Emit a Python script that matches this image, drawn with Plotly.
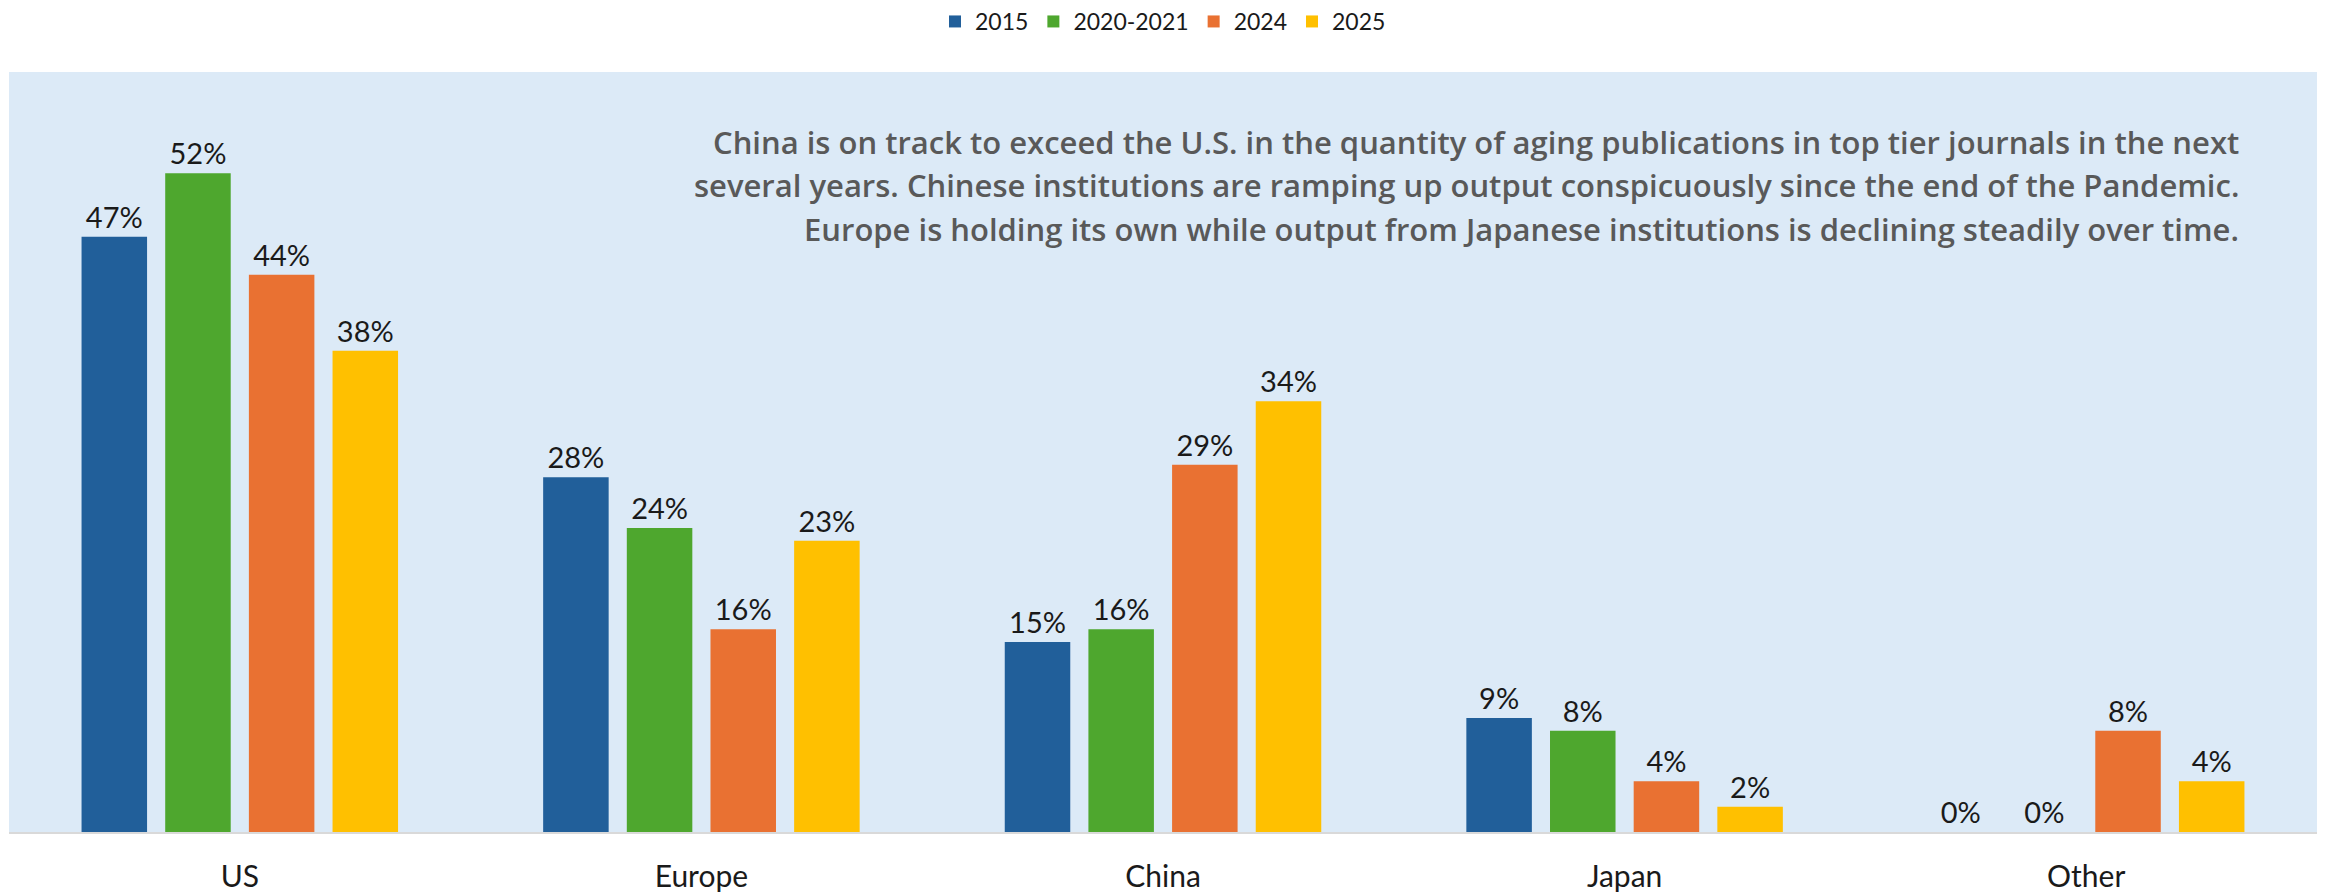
import plotly.graph_objects as go

# Share of aging publications in top tier journals, by region of the authors' institutions
regions = ["US", "Europe", "China", "Japan", "Other"]
periods = ["2015", "2020-2021", "2024", "2025"]
share_2015 = [0.47, 0.28, 0.15, 0.09, 0.00]
share_2020_2021 = [0.52, 0.24, 0.16, 0.08, 0.00]
share_2024 = [0.44, 0.16, 0.29, 0.04, 0.08]
share_2025 = [0.38, 0.23, 0.34, 0.02, 0.04]
series = [share_2015, share_2020_2021, share_2024, share_2025]
colors = ["#215F9A", "#4EA72E", "#E97132", "#FFC000"]

note_lines = [
    "China is on track to exceed the U.S. in the quantity of aging publications in top tier journals in the next",
    "several years. Chinese institutions are ramping up output conspicuously since the end of the Pandemic.",
    "Europe is holding its own while output from Japanese institutions is declining steadily over time.",
]

fig = go.Figure()
for name, values, color in zip(periods, series, colors):
    fig.add_trace(go.Bar(
        name=name,
        x=regions,
        y=values,
        marker=dict(color=color, line=dict(width=0)),
        texttemplate="%{y:.0%}",
        textposition="outside",
        cliponaxis=False,
        textfont=dict(family="Lato", size=29, color="#1a1a1a"),
    ))

# Commentary block, right aligned, one annotation per line for even leading
for i, line in enumerate(note_lines):
    fig.add_annotation(
        xref="paper", yref="paper",
        x=0.967, y=0.908 - i * 0.057,
        xanchor="right", yanchor="middle",
        align="right",
        text=line,
        showarrow=False,
        font=dict(family="Open Sans", size=31, color="#595959", weight=600),
    )

fig.update_layout(
    width=2325, height=893,
    margin=dict(l=9, r=8, t=72, b=61),
    paper_bgcolor="white",
    plot_bgcolor="#DCEAF7",
    barmode="group",
    bargap=0.275,
    bargroupgap=0.217,
    showlegend=True,
    legend=dict(
        orientation="h",
        x=0.5, xanchor="center",
        y=1.0, yanchor="top", yref="container",
        font=dict(family="Lato", size=23, color="#1a1a1a"),
        bgcolor="rgba(0,0,0,0)",
        traceorder="normal",
    ),
    xaxis=dict(
        showline=True, linecolor="#D9D9D9", linewidth=2,
        ticks="", showgrid=False, automargin=False,
        tickfont=dict(family="Lato", size=30, color="#1a1a1a"),
        ticklabelstandoff=17,
    ),
    yaxis=dict(
        range=[0, 0.6], visible=False, showgrid=False, zeroline=False,
        automargin=False,
    ),
)

fig.write_html("out.html")
